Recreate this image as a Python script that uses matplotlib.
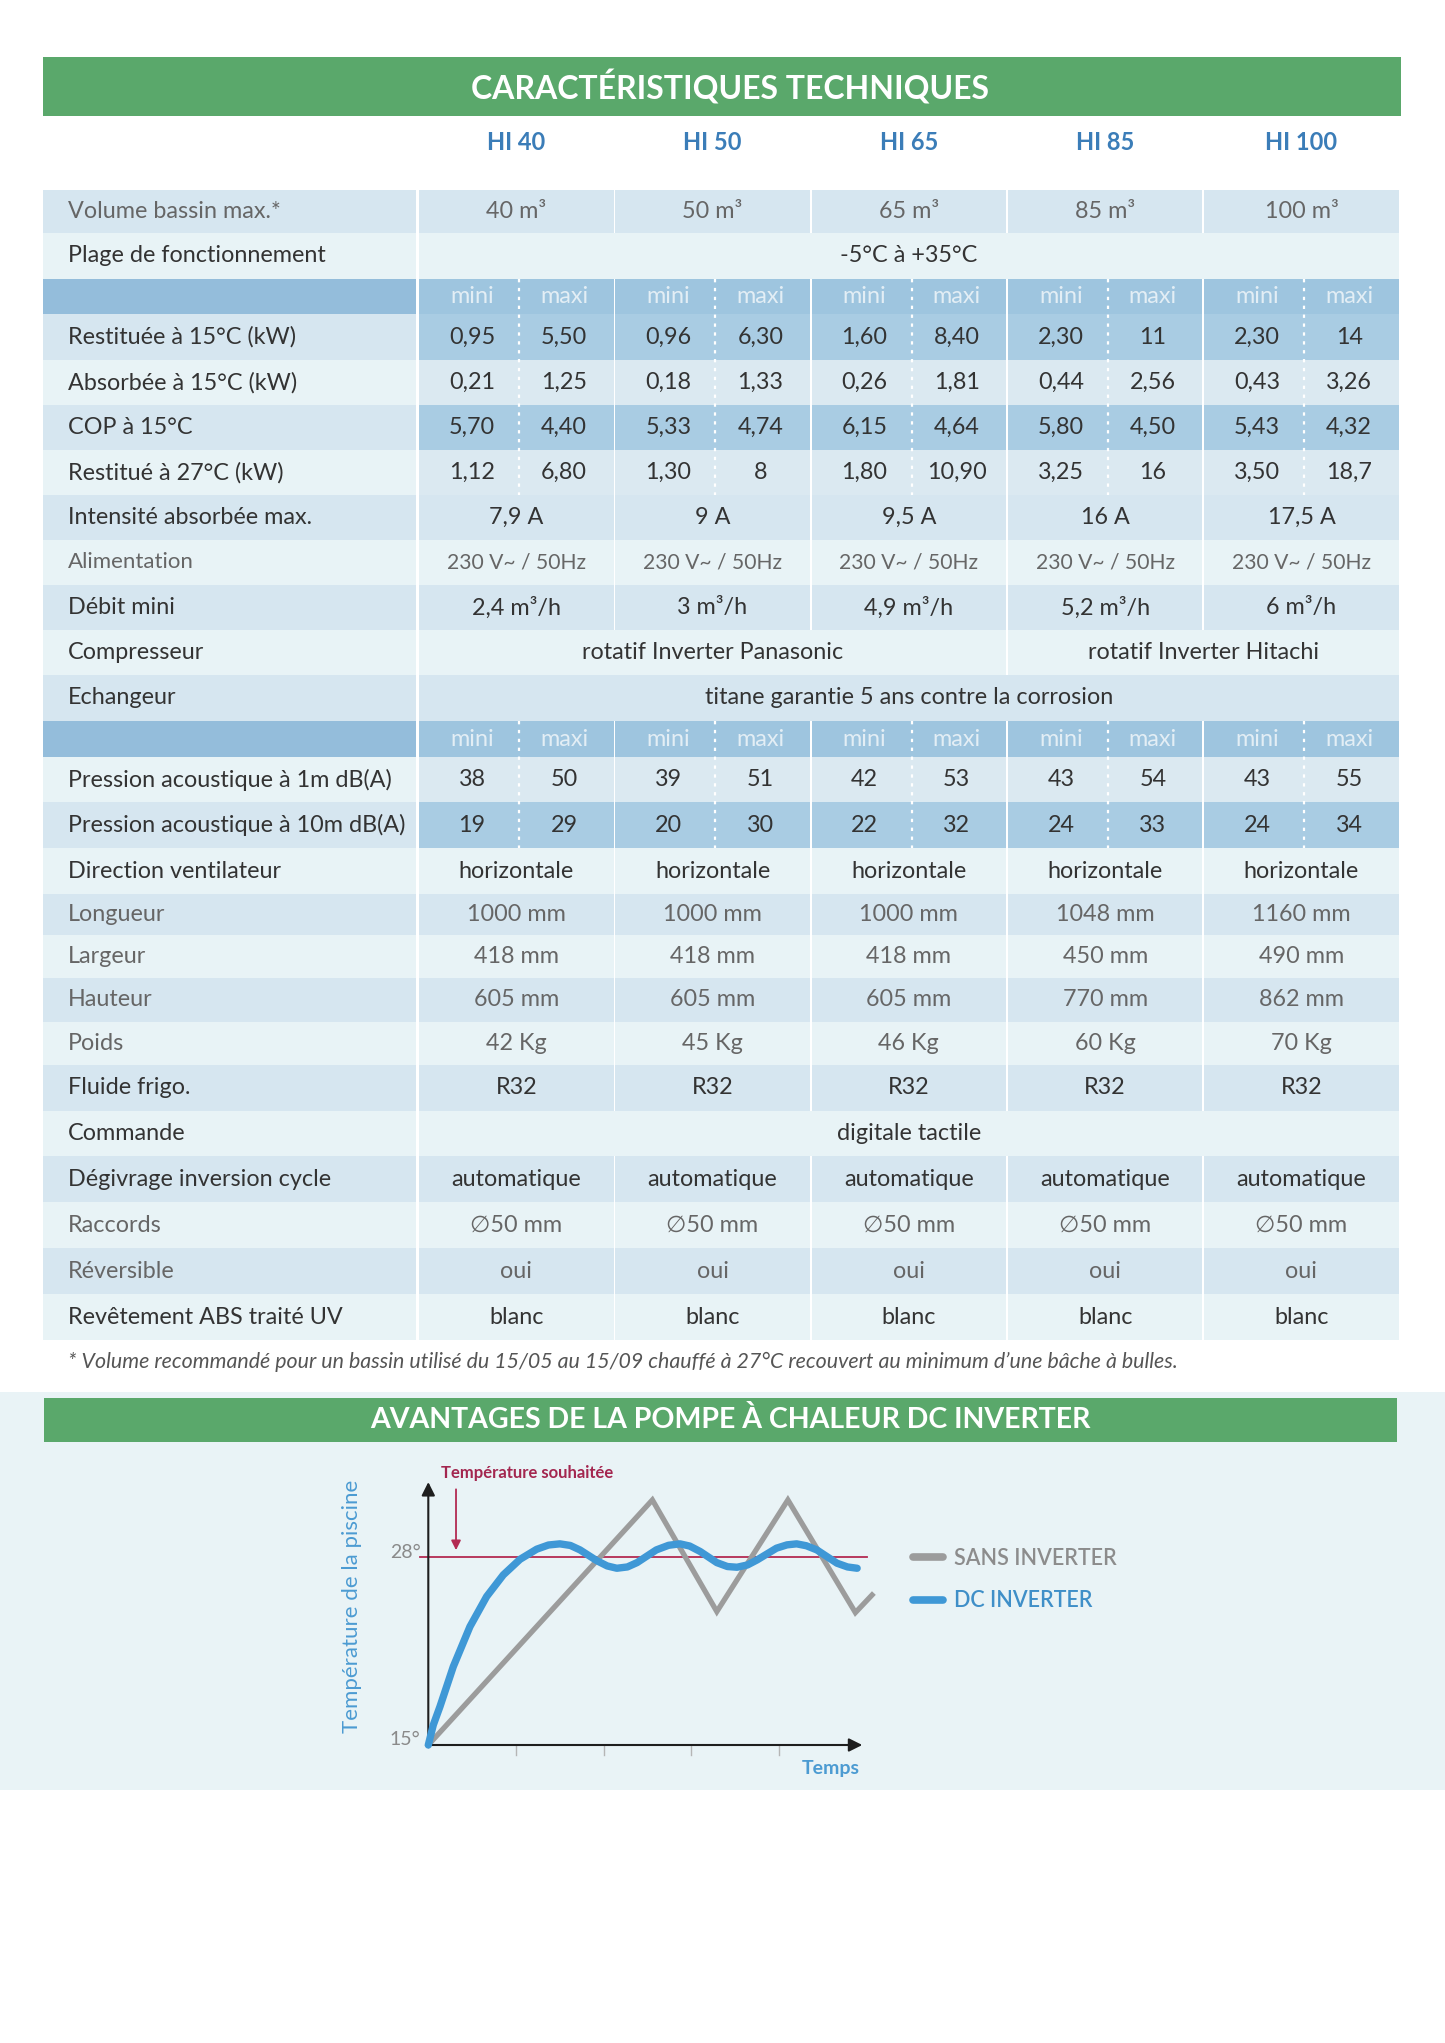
import matplotlib.pyplot as plt
from matplotlib.patches import Rectangle
from matplotlib.lines import Line2D

plt.rcParams['font.family'] = ['Lato', 'DejaVu Sans']

W, H = 1445, 2043

# ---- table data ----
models = ["HI 40", "HI 50", "HI 65", "HI 85", "HI 100"]
volume = ["40 m³", "50 m³", "65 m³", "85 m³", "100 m³"]
plage = "-5°C à +35°C"
rest15_mini = ["0,95", "0,96", "1,60", "2,30", "2,30"]
rest15_maxi = ["5,50", "6,30", "8,40", "11", "14"]
abs15_mini = ["0,21", "0,18", "0,26", "0,44", "0,43"]
abs15_maxi = ["1,25", "1,33", "1,81", "2,56", "3,26"]
cop_mini = ["5,70", "5,33", "6,15", "5,80", "5,43"]
cop_maxi = ["4,40", "4,74", "4,64", "4,50", "4,32"]
rest27_mini = ["1,12", "1,30", "1,80", "3,25", "3,50"]
rest27_maxi = ["6,80", "8", "10,90", "16", "18,7"]
intensite = ["7,9 A", "9 A", "9,5 A", "16 A", "17,5 A"]
alimentation = ["230 V~ / 50Hz"] * 5
debit = ["2,4 m³/h", "3 m³/h", "4,9 m³/h", "5,2 m³/h", "6 m³/h"]
compresseur = [("rotatif Inverter Panasonic", 0, 2), ("rotatif Inverter Hitachi", 3, 4)]
echangeur = "titane garantie 5 ans contre la corrosion"
db1m_mini = [38, 39, 42, 43, 43]
db1m_maxi = [50, 51, 53, 54, 55]
db10m_mini = [19, 20, 22, 24, 24]
db10m_maxi = [29, 30, 32, 33, 34]
direction = ["horizontale"] * 5
longueur = ["1000 mm", "1000 mm", "1000 mm", "1048 mm", "1160 mm"]
largeur = ["418 mm", "418 mm", "418 mm", "450 mm", "490 mm"]
hauteur = ["605 mm", "605 mm", "605 mm", "770 mm", "862 mm"]
poids = ["42 Kg", "45 Kg", "46 Kg", "60 Kg", "70 Kg"]
fluide = ["R32"] * 5
commande = "digitale tactile"
degivrage = ["automatique"] * 5
raccords = ["∅50 mm"] * 5
reversible = ["oui"] * 5
revetement = ["blanc"] * 5
footnote = ("* Volume recommandé pour un bassin utilisé du 15/05 au 15/09 chauffé à 27°C "
            "recouvert au minimum d’une bâche à bulles.")

# ---- chart data ----
time_ticks = [1, 2, 3, 4]
target_temp = 28
sans_t = [0, 2.555, 3.29, 4.10, 4.87, 5.06]
sans_T = [15, 31.97, 24.24, 31.97, 24.17, 25.39]
dc_t = [0, 0.057, 0.133, 0.285, 0.475, 0.665, 0.855, 1.046, 1.236, 1.37, 1.5, 1.62, 1.73,
        1.92, 2.04, 2.15, 2.27, 2.38, 2.6, 2.74, 2.87, 2.98, 3.1, 3.29, 3.41, 3.52, 3.64,
        3.75, 3.97, 4.09, 4.2, 4.31, 4.43, 4.66, 4.78, 4.89]
dc_T = [15, 16.39, 17.66, 20.43, 23.2, 25.28, 26.78, 27.86, 28.56, 28.85, 28.93, 28.82, 28.51,
        27.77, 27.4, 27.24, 27.33, 27.63, 28.51, 28.83, 28.93, 28.78, 28.4, 27.63, 27.36, 27.31,
        27.47, 27.82, 28.63, 28.86, 28.93, 28.8, 28.51, 27.59, 27.33, 27.24]

rows = [
    ("Volume bassin max.*", "single", volume),
    ("Plage de fonctionnement", "span", [(plage, 0, 4)]),
    ("", "head", None),
    ("Restituée à 15°C (kW)", "pair", (rest15_mini, rest15_maxi)),
    ("Absorbée à 15°C (kW)", "pair", (abs15_mini, abs15_maxi)),
    ("COP à 15°C", "pair", (cop_mini, cop_maxi)),
    ("Restitué à 27°C (kW)", "pair", (rest27_mini, rest27_maxi)),
    ("Intensité absorbée max.", "single", intensite),
    ("Alimentation", "single", alimentation),
    ("Débit mini", "single", debit),
    ("Compresseur", "span", compresseur),
    ("Echangeur", "span", [(echangeur, 0, 4)]),
    ("", "head", None),
    ("Pression acoustique à 1m dB(A)", "pair", (db1m_mini, db1m_maxi)),
    ("Pression acoustique à 10m dB(A)", "pair", (db10m_mini, db10m_maxi)),
    ("Direction ventilateur", "single", direction),
    ("Longueur", "single", longueur),
    ("Largeur", "single", largeur),
    ("Hauteur", "single", hauteur),
    ("Poids", "single", poids),
    ("Fluide frigo.", "single", fluide),
    ("Commande", "span", [(commande, 0, 4)]),
    ("Dégivrage inversion cycle", "single", degivrage),
    ("Raccords", "single", raccords),
    ("Réversible", "single", reversible),
    ("Revêtement ABS traité UV", "single", revetement),
]
shade = "dlhdldldldldhldldldldldldl"
row_y = [190, 233, 279, 314, 360, 405, 450, 495, 540, 585, 630, 675, 721, 757, 802, 848,
         894, 935, 978, 1022, 1065, 1111, 1156, 1202, 1248, 1294, 1340]
muted = {"Volume bassin max.*", "Alimentation", "Longueur", "Largeur", "Hauteur", "Poids",
         "Raccords", "Réversible"}

colors = {"d": "#d6e6f0", "l": "#e8f3f6", "h": "#9ec5df", "hl": "#94bddb",
          "mid": "#a9cce3", "soft": "#dbe9f1"}
green = "#5aa86b"
dark_txt, mute_txt = "#333333", "#666666"
body_fs = 16.8

col_x0, col_pitch, col_w = 419.0, 196.3, 194.5
lab_x0, lab_x1 = 43.0, 416.0
split = 100.0

fig = plt.figure(figsize=(W / 100, H / 100), dpi=100)
fig.patch.set_facecolor("white")
page = fig.add_axes([0, 0, 1, 1])
page.set_xlim(0, W)
page.set_ylim(H, 0)
page.axis("off")


def rect(x0, x1, y0, y1, c, z=1):
    page.add_patch(Rectangle((x0, y0), x1 - x0, y1 - y0, facecolor=c, edgecolor="none", zorder=z))


def cx(i):
    return col_x0 + i * col_pitch


def put(x, y, s, c, fs=body_fs, ha="center"):
    page.text(x, y, s, ha=ha, va="center", color=c, fontsize=fs)


# title banner
rect(43, 1401, 57, 116, green)
page.text(730, 87, "CARACTÉRISTIQUES TECHNIQUES", ha="center", va="center",
          color="white", fontsize=23, fontweight="bold")
for i, m in enumerate(models):
    page.text(cx(i) + col_w / 2, 143, m, ha="center", va="center",
              color="#3b7db8", fontsize=17, fontweight="bold")

for r, (label, kind, vals) in enumerate(rows):
    y0, y1 = row_y[r], row_y[r + 1]
    ym = (y0 + y1) / 2
    s = shade[r]
    tc = mute_txt if label in muted else dark_txt
    small = label == "Alimentation"
    lab_fs = 16 if small else body_fs
    val_fs = 15.2 if small else body_fs
    if kind == "head":
        rect(lab_x0, lab_x1, y0, y1, colors["hl"])
        for i in range(5):
            rect(cx(i), cx(i) + col_w, y0, y1, colors["h"])
            put(cx(i) + 53, ym, "mini", "#e3eef5")
            put(cx(i) + 145, ym, "maxi", "#e3eef5")
        continue
    rect(lab_x0, lab_x1, y0, y1, colors[s])
    put(68, ym, label, tc, lab_fs, ha="left")
    if kind == "single":
        for i, v in enumerate(vals):
            rect(cx(i), cx(i) + col_w, y0, y1, colors[s])
            put(cx(i) + col_w / 2, ym, v, tc, val_fs)
    elif kind == "span":
        for text, a, b in vals:
            rect(cx(a), cx(b) + col_w, y0, y1, colors[s])
            put((cx(a) + cx(b) + col_w) / 2, ym, text, tc, val_fs)
    else:
        c = colors["mid"] if s == "d" else colors["soft"]
        for i in range(5):
            rect(cx(i), cx(i) + col_w, y0, y1, c)
            put(cx(i) + 53, ym, str(vals[0][i]), tc, val_fs)
            put(cx(i) + 145, ym, str(vals[1][i]), tc, val_fs)

# dotted splits between mini / maxi
for top, bot in [(row_y[2], row_y[7]), (row_y[12], row_y[15])]:
    for i in range(5):
        page.plot([cx(i) + split] * 2, [top, bot], color="white", lw=1.6,
                  linestyle=(0, (1.5, 2.5)), zorder=3)

page.text(68, 1362, footnote, ha="left", va="center", color="#555555",
          fontsize=15.4, fontstyle="italic")

# lower section
rect(0, W, 1392, 1790, "#e9f3f6", z=0)
rect(44, 1397, 1398, 1442, green)
page.text(730, 1420, "AVANTAGES DE LA POMPE À CHALEUR DC INVERTER", ha="center",
          va="center", color="white", fontsize=20.5, fontweight="bold")

# chart axes placed so that t/T map onto page pixels
ox, oy, sx, sy = 428.3, 1745.0, 87.7, 14.44
t0, t1, T0, T1 = -1.2, 8.6, 12, 35
left, right = ox + sx * t0, ox + sx * t1
top, bottom = oy - sy * (T1 - 15), oy - sy * (T0 - 15)
ax = fig.add_axes([left / W, 1 - bottom / H, (right - left) / W, (bottom - top) / H])
ax.set_xlim(t0, t1)
ax.set_ylim(T0, T1)
ax.axis("off")
ax.patch.set_alpha(0)

blue, grey, red = "#3f98d6", "#9c9c9c", "#b32a52"
ax.plot([-0.1, 5.0], [target_temp, target_temp], color=red, lw=1.3, zorder=2)
ax.plot(sans_t, sans_T, color=grey, lw=3.8, solid_joinstyle="miter", zorder=3)
ax.plot(dc_t, dc_T, color=blue, lw=5.3, solid_capstyle="round", zorder=4)

ax.annotate("", xy=(4.98, 15), xytext=(0, 15),
            arrowprops=dict(arrowstyle="-|>", color="#1e1e1e", lw=1.5, mutation_scale=20))
ax.annotate("", xy=(0, 33.4), xytext=(0, 15),
            arrowprops=dict(arrowstyle="-|>", color="#1e1e1e", lw=1.5, mutation_scale=20))
for tk in time_ticks:
    ax.plot([tk, tk], [15, 14.3], color="#b5b5b5", lw=1)

ax.annotate("", xy=(0.316, target_temp + 0.3), xytext=(0.316, 32.9),
            arrowprops=dict(arrowstyle="-|>", color=red, lw=1.3, mutation_scale=14))
ax.text(0.14, 33.85, "Température souhaitée", ha="left", va="center", color="#a3264f",
        fontsize=12, fontweight="bold")
ax.text(-0.09, 28.35, "28°", ha="right", va="center", color="#8a8a8a", fontsize=14)
ax.text(-0.09, 15.4, "15°", ha="right", va="center", color="#8a8a8a", fontsize=14)
ax.text(-0.87, 24.6, "Température de la piscine", rotation=90, ha="center", va="center",
        color="#4c9bd2", fontsize=16)
ax.text(4.92, 13.4, "Temps", ha="right", va="center", color="#4c9bd2", fontsize=14,
        fontweight="bold")

handles = [Line2D([], [], color=grey, lw=5.5, solid_capstyle="round"),
           Line2D([], [], color=blue, lw=5.5, solid_capstyle="round")]
ax.legend(handles, ["SANS INVERTER", "DC INVERTER"], loc="upper left",
          bbox_to_anchor=(5.4, 29.4), bbox_transform=ax.transData, frameon=False,
          prop={"size": 15.5, "weight": "semibold"}, handlelength=1.4, handletextpad=0.5,
          labelspacing=1.0, labelcolor=["#8c8c8c", "#3f8fc8"], borderpad=0)

fig.savefig("out.png", dpi=100)
